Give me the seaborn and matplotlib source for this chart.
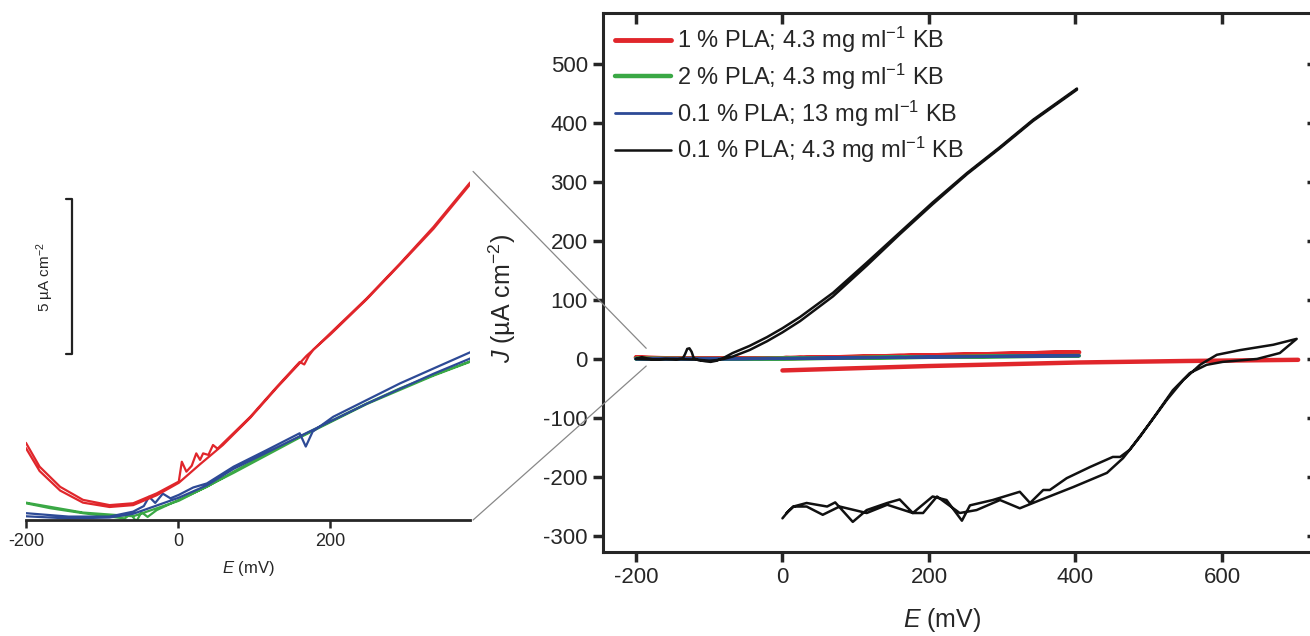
import pandas as pd
import matplotlib.pyplot as plt
import seaborn as sns
from matplotlib.lines import Line2D
from matplotlib.patches import ConnectionPatch

sns.set_style('ticks')
plt.rcParams['font.family'] = ['Liberation Sans', 'DejaVu Sans']
plt.rcParams['axes.unicode_minus'] = False
plt.rcParams['mathtext.fontset'] = 'custom'
plt.rcParams['mathtext.rm'] = 'Liberation Sans'
plt.rcParams['mathtext.it'] = 'Liberation Sans:italic'

# 1 % PLA; 4.3 mg/ml KB  (loop near 0 from -200 to 400, plus a lower line 0 -> 700)
red_fwd_E = [-200, -182, -155, -125, -90, -59, -28, 1, 5, 11, 18, 24, 29, 33, 40, 46, 52, 59, 95, 130, 160, 166, 172, 178, 200, 248, 292, 336, 383, 405]
red_fwd_J = [2.49, 1.72, 1.07, 0.65, 0.48, 0.54, 0.86, 1.24, 1.88, 1.56, 1.75, 2.15, 1.94, 2.15, 2.1, 2.42, 2.3, 2.47, 3.33, 4.30, 5.10, 5.02, 5.30, 5.5, 6.02, 7.15, 8.28, 9.46, 10.86, 11.4]
red_rev_E = [405, 383, 336, 292, 248, 200, 169, 130, 95, 59, 29, 1, -28, -59, -90, -125, -155, -182, -200]
red_rev_J = [11.3, 10.8, 9.4, 8.25, 7.12, 5.98, 5.3, 4.27, 3.30, 2.42, 1.80, 1.20, 0.80, 0.48, 0.42, 0.56, 0.95, 1.58, 2.32]
red_low_E = [0, 200, 405, 550, 704]
red_low_J = [-19.5, -12, -6, -3.5, -1.5]

# 2 % PLA; 4.3 mg/ml KB
green_fwd_E = [-200, -168, -125, -90, -70, -62, -55, -48, -40, -28, 1, 38, 73, 117, 160, 204, 248, 292, 336, 383, 405]
green_fwd_J = [0.54, 0.38, 0.22, 0.11, 0.05, 0.2, -0.05, 0.25, 0.1, 0.32, 0.65, 1.07, 1.56, 2.15, 2.69, 3.23, 3.76, 4.25, 4.68, 5.11, 5.32]
green_rev_E = [405, 336, 248, 160, 73, 1, -59, -125, -200]
green_rev_J = [5.3, 4.66, 3.74, 2.66, 1.52, 0.62, 0.12, 0.24, 0.56]

# 0.1 % PLA; 13 mg/ml KB
blue_fwd_E = [-200, -144, -90, -59, -45, -38, -30, -20, -10, 1, 20, 38, 73, 117, 160, 168, 177, 204, 248, 292, 336, 383, 405]
blue_fwd_J = [0.22, 0.11, 0.11, 0.27, 0.45, 0.75, 0.55, 0.85, 0.7, 0.81, 1.05, 1.18, 1.72, 2.26, 2.8, 2.37, 2.85, 3.33, 3.87, 4.41, 4.89, 5.4, 5.65]
blue_rev_E = [405, 383, 336, 248, 160, 117, 73, 38, 1, -30, -59, -90, -144, -200]
blue_rev_J = [5.45, 5.2, 4.72, 3.75, 2.7, 2.18, 1.65, 1.12, 0.72, 0.45, 0.2, 0.08, 0.05, 0.12]

# 0.1 % PLA; 4.3 mg/ml KB
black_fwd_E = [-200, -192, -185, -175, -160, -145, -136, -133, -130, -127, -124, -121, -115, -105, -98, -90, -80, -68, -45, -21, 0, 24, 69, 115, 160, 205, 252, 297, 342, 402]
black_fwd_J = [0, 3, 1, -1, 0, -1, 1, 8, 17, 18, 12, 1, -2, -4, -5, -3, 2, 10, 22, 37, 52, 71, 112, 163, 214, 265, 315, 359, 405, 458]
black_rev_E = [402, 342, 297, 252, 205, 160, 115, 69, 24, 0, -21, -45, -68, -80, -90, -100, -120, -150, -180, -200]
black_rev_J = [456, 403, 357, 313, 262, 211, 158, 106, 64, 45, 30, 15, 4, 0, -2, -3, -1, 0, -1, 0]
black_cv_E = [0, 8, 15, 33, 55, 78, 115, 143, 178, 192, 211, 242, 265, 297, 324, 342, 352, 397, 443, 465, 488, 511, 533, 556, 579, 601, 648, 679, 702,
              670, 625, 593, 570, 547, 525, 502, 474, 461, 451, 420, 388, 365, 356, 338, 324, 287, 256, 245, 224, 205, 178, 160, 143, 115, 96, 72, 61, 33, 15, 5]
black_cv_J = [-270, -258, -250, -250, -264, -250, -261, -247, -261, -261, -233, -261, -256, -239, -253, -244, -239, -217, -193, -168, -132, -92, -53, -24, -10, -5, 0, 10, 34,
              24, 15, 7, -10, -36, -69, -108, -154, -166, -166, -183, -202, -222, -222, -244, -225, -239, -248, -274, -239, -233, -261, -238, -244, -256, -276, -243, -250, -244, -250, -262]

labels = ['1 % PLA; 4.3 mg ml$^{-1}$ KB', '2 % PLA; 4.3 mg ml$^{-1}$ KB',
          '0.1 % PLA; 13 mg ml$^{-1}$ KB', '0.1 % PLA; 4.3 mg ml$^{-1}$ KB']
colors = ['#e0262b', '#3aa845', '#2d4a96', '#111111']
widths = [3.2, 2.8, 2.2, 1.8]

segments = [
    (0, 'loop', red_fwd_E + red_rev_E, red_fwd_J + red_rev_J),
    (0, 'low', red_low_E, red_low_J),
    (1, 'loop', green_fwd_E + green_rev_E, green_fwd_J + green_rev_J),
    (2, 'loop', blue_fwd_E + blue_rev_E, blue_fwd_J + blue_rev_J),
    (3, 'loop', black_fwd_E + black_rev_E, black_fwd_J + black_rev_J),
    (3, 'cv', black_cv_E, black_cv_J),
]
rows = []
for s, seg, E, J in segments:
    for e, j in zip(E, J):
        rows.append({'series': s, 'segment': seg, 'E': e, 'J': j})
df = pd.DataFrame(rows)

fig = plt.figure(figsize=(13.1, 6.36), dpi=100)
ax = fig.add_axes([0.4603, 0.1321, 0.5435, 0.8475])
ax_in = fig.add_axes([0.0198, 0.1824, 0.339, 0.5505])

# main chart
for s in [0, 1, 2, 3]:
    sub = df[df['series'] == s]
    sns.lineplot(data=sub, x='E', y='J', units='segment', estimator=None, sort=False,
                 color=colors[s], lw=widths[s], ax=ax, legend=False)
ax.set_xlim(-245, 727)
ax.set_ylim(-327, 586)
ax.set_xticks([-200, 0, 200, 400, 600])
ax.set_yticks([-300, -200, -100, 0, 100, 200, 300, 400, 500])
ax.tick_params(axis='both', direction='out', length=7, width=2.5, labelsize=16, pad=4)
for sp in ax.spines.values():
    sp.set_linewidth(2.2)
ax.spines['right'].set_visible(False)
ax.set_xlabel('$E$ (mV)', fontsize=18)
ax.set_ylabel('$J$ (µA cm$^{-2}$)', fontsize=18)
ax.xaxis.set_label_coords(0.476, -0.1)
ax.yaxis.set_label_coords(-0.12, 0.47)

top = ax.secondary_xaxis('top')
top.set_xticks([-200, 0, 200, 400, 600])
top.tick_params(direction='in', length=8, width=2.5, labeltop=False)
right = ax.secondary_yaxis('right')
right.set_yticks([-300, -200, -100, 0, 100, 200, 300, 400, 500])
right.tick_params(direction='in', length=6, width=2.5, labelright=False)
right.spines['right'].set_visible(False)

handles = [Line2D([], [], color=colors[i], lw=[3.5, 3.2, 2.0, 1.8][i]) for i in range(4)]
ax.legend(handles, labels, loc='upper left', frameon=False, fontsize=17,
          handlelength=2.4, handletextpad=0.25, labelspacing=0.28,
          borderaxespad=0.2, borderpad=0.3)

# zoomed inset
for s in [1, 2, 0]:
    sub = df[(df['series'] == s) & (df['segment'] == 'loop')]
    sns.lineplot(data=sub, x='E', y='J', units='segment', estimator=None, sort=False,
                 color=colors[s], lw=1.6, ax=ax_in, legend=False)
ax_in.set_xlim(-200, 384)
ax_in.set_ylim(0, 11.3)
ax_in.set_xticks([-200, 0, 200])
ax_in.set_yticks([])
ax_in.set_ylabel('')
ax_in.set_xlabel('$E$ (mV)', fontsize=12, labelpad=6)
ax_in.tick_params(axis='x', direction='out', length=6, width=1.8, labelsize=13)
for side in ['left', 'top', 'right']:
    ax_in.spines[side].set_visible(False)
ax_in.spines['bottom'].set_linewidth(2)
ax_in.patch.set_alpha(0)

# 5 uA cm-2 scale bar
bar_x = -140
bar_cap = -147
bar_lo, bar_hi = 5.35, 10.35
ax_in.plot([bar_cap, bar_x, bar_x, bar_cap], [bar_hi, bar_hi, bar_lo, bar_lo], color='#222222', lw=1.6)
ax_in.text(-175, (bar_lo + bar_hi) / 2, '5 µA cm$^{-2}$', rotation=90, fontsize=11,
           ha='center', va='center')

for yi, ym in [(11.25, 18), (0.0, -12)]:
    con = ConnectionPatch(xyA=(388, yi), coordsA=ax_in.transData,
                          xyB=(-186, ym), coordsB=ax.transData,
                          color='#888888', lw=0.9)
    fig.add_artist(con)

fig.savefig('out.png', dpi=100)
